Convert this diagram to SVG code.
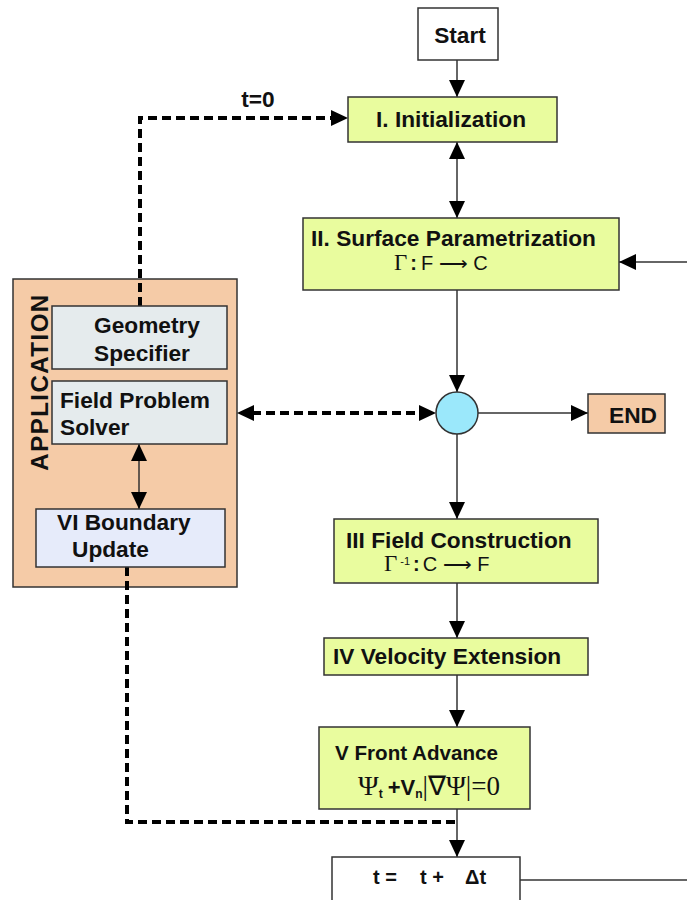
<svg xmlns="http://www.w3.org/2000/svg" width="687" height="900" viewBox="0 0 687 900">
  <style>
    .step { fill: #e9fc9e; stroke: #333; stroke-width: 1.5; }
    .plain { fill: #ffffff; stroke: #333; stroke-width: 1.5; }
    .app { fill: #f5cba7; stroke: #333; stroke-width: 1.5; }
    .mod { fill: #e5ebed; stroke: #333; stroke-width: 1.5; }
    .mod2 { fill: #e6ebfa; stroke: #333; stroke-width: 1.5; }
    .lbl { font-family: "Liberation Sans", Arial, sans-serif; font-weight: bold; font-size: 22.7px; fill: #111; }
    .math { font-family: "Liberation Sans", Arial, sans-serif; font-size: 20px; fill: #111; }
    .serif { font-family: "Liberation Serif", "Times New Roman", serif; fill: #111; }
    .flow { stroke: #333; stroke-width: 1.5; fill: none; }
    .dash { stroke: #000; stroke-width: 4; stroke-dasharray: 9 5; fill: none; }
  </style>
  <defs>
    <marker id="ah" markerUnits="userSpaceOnUse" markerWidth="18" markerHeight="16" refX="17" refY="8" orient="auto-start-reverse">
      <path d="M0,0 L17,8 L0,16 Z" fill="#000"/>
    </marker>
  </defs>

  <!-- application container sits beneath the links that cross it -->
  <g id="application">
    <rect class="app" x="13" y="279" width="224" height="308"/>
    <text class="lbl" x="48" y="382" text-anchor="middle" transform="rotate(-90 48 382)" style="font-size:24px; letter-spacing:1.5px">APPLICATION</text>
  </g>

  <!-- connectors -->
  <g id="connectors">
    <line class="flow" x1="457" y1="60" x2="457" y2="97" marker-end="url(#ah)"/>
    <line class="flow" x1="457" y1="142" x2="457" y2="218" marker-start="url(#ah)" marker-end="url(#ah)"/>
    <line class="flow" x1="687" y1="262" x2="619" y2="262" marker-end="url(#ah)"/>
    <line class="flow" x1="457" y1="290" x2="457" y2="392" marker-end="url(#ah)"/>
    <line class="flow" x1="478" y1="413" x2="588" y2="413" marker-end="url(#ah)"/>
    <line class="flow" x1="457" y1="434" x2="457" y2="519" marker-end="url(#ah)"/>
    <line class="flow" x1="457" y1="583" x2="457" y2="638" marker-end="url(#ah)"/>
    <line class="flow" x1="457" y1="675" x2="457" y2="727" marker-end="url(#ah)"/>
    <line class="flow" x1="457" y1="809" x2="457" y2="857" marker-end="url(#ah)"/>
    <line class="flow" x1="520" y1="880" x2="687" y2="880"/>
    <line class="flow" x1="139" y1="444" x2="139" y2="509" marker-start="url(#ah)" marker-end="url(#ah)"/>
    <!-- dashed data links -->
    <polyline class="dash" points="140,306 140,118 332,118"/>
    <path d="M331,110 L348,118 L331,126 Z" fill="#000"/>
    <text class="lbl" x="258" y="107" text-anchor="middle">t=0</text>
    <line class="dash" x1="252" y1="413" x2="420" y2="413"/>
    <path d="M254,405 L237,413 L254,421 Z" fill="#000"/>
    <path d="M419,405 L436,413 L419,421 Z" fill="#000"/>
    <polyline class="dash" points="127,567 127,822 457,822"/>
  </g>

  <g id="start">
    <rect class="plain" x="418" y="8" width="80" height="52"/>
    <text class="lbl" x="460" y="43" text-anchor="middle">Start</text>
  </g>

  <g id="init">
    <rect class="step" x="348" y="97" width="209" height="45"/>
    <text class="lbl" x="451" y="127" text-anchor="middle">I. Initialization</text>
  </g>

  <g id="surface">
    <rect class="step" x="303" y="218" width="316" height="72"/>
    <text class="lbl" x="311" y="246">II. Surface Parametrization</text>
    <text x="394" y="270" class="math"><tspan class="serif" style="font-size:23px">Γ</tspan><tspan font-weight="bold" dx="3">:</tspan><tspan dx="4">F ⟶ C</tspan></text>
  </g>

  <g id="junction">
    <circle cx="457" cy="413" r="21" fill="#9be8fb" stroke="#333" stroke-width="1.5"/>
  </g>

  <g id="end">
    <rect class="app" x="588" y="394" width="77" height="39"/>
    <text class="lbl" x="633" y="423" text-anchor="middle">END</text>
  </g>

  <g id="field-construction">
    <rect class="step" x="334" y="519" width="264" height="64"/>
    <text class="lbl" x="346" y="548">III Field Construction</text>
    <text x="384" y="571" class="math"><tspan class="serif" style="font-size:23px">Γ</tspan><tspan style="font-size:11px" dx="3" dy="-6">-1</tspan><tspan font-weight="bold" dx="3" dy="6">:</tspan><tspan dx="3">C ⟶ F</tspan></text>
  </g>

  <g id="velocity">
    <rect class="step" x="324" y="638" width="264" height="37"/>
    <text class="lbl" x="333" y="664">IV Velocity Extension</text>
  </g>

  <g id="front">
    <rect class="step" x="319" y="727" width="211" height="82"/>
    <text class="lbl" x="335" y="760" style="font-size:20.6px">V Front Advance</text>
    <text x="358" y="795"><tspan class="serif" style="font-size:28px">Ψ</tspan><tspan class="lbl" style="font-size:12px" dy="3">t</tspan><tspan class="lbl" style="font-size:22px" dx="5" dy="-3">+V</tspan><tspan class="lbl" style="font-size:12px" dy="3">n</tspan><tspan class="serif" style="font-size:27px" dy="-3">|∇Ψ|=0</tspan></text>
  </g>

  <g id="timestep">
    <rect class="plain" x="332" y="857" width="188" height="50"/>
    <text class="lbl" y="884" style="font-size:20px"><tspan x="373">t =</tspan><tspan x="420">t +</tspan><tspan x="465">Δt</tspan></text>
  </g>

  <g id="geometry">
    <rect class="mod" x="52" y="306" width="175" height="63"/>
    <text class="lbl" x="147" y="333" text-anchor="middle">Geometry</text>
    <text class="lbl" x="142" y="361" text-anchor="middle">Specifier</text>
  </g>

  <g id="solver">
    <rect class="mod" x="52" y="381" width="175" height="63"/>
    <text class="lbl" x="60" y="408">Field Problem</text>
    <text class="lbl" x="60" y="435">Solver</text>
  </g>

  <g id="boundary">
    <rect class="mod2" x="36" y="509" width="189" height="58"/>
    <text class="lbl" x="57" y="530">VI Boundary</text>
    <text class="lbl" x="72" y="557">Update</text>
  </g>
</svg>
